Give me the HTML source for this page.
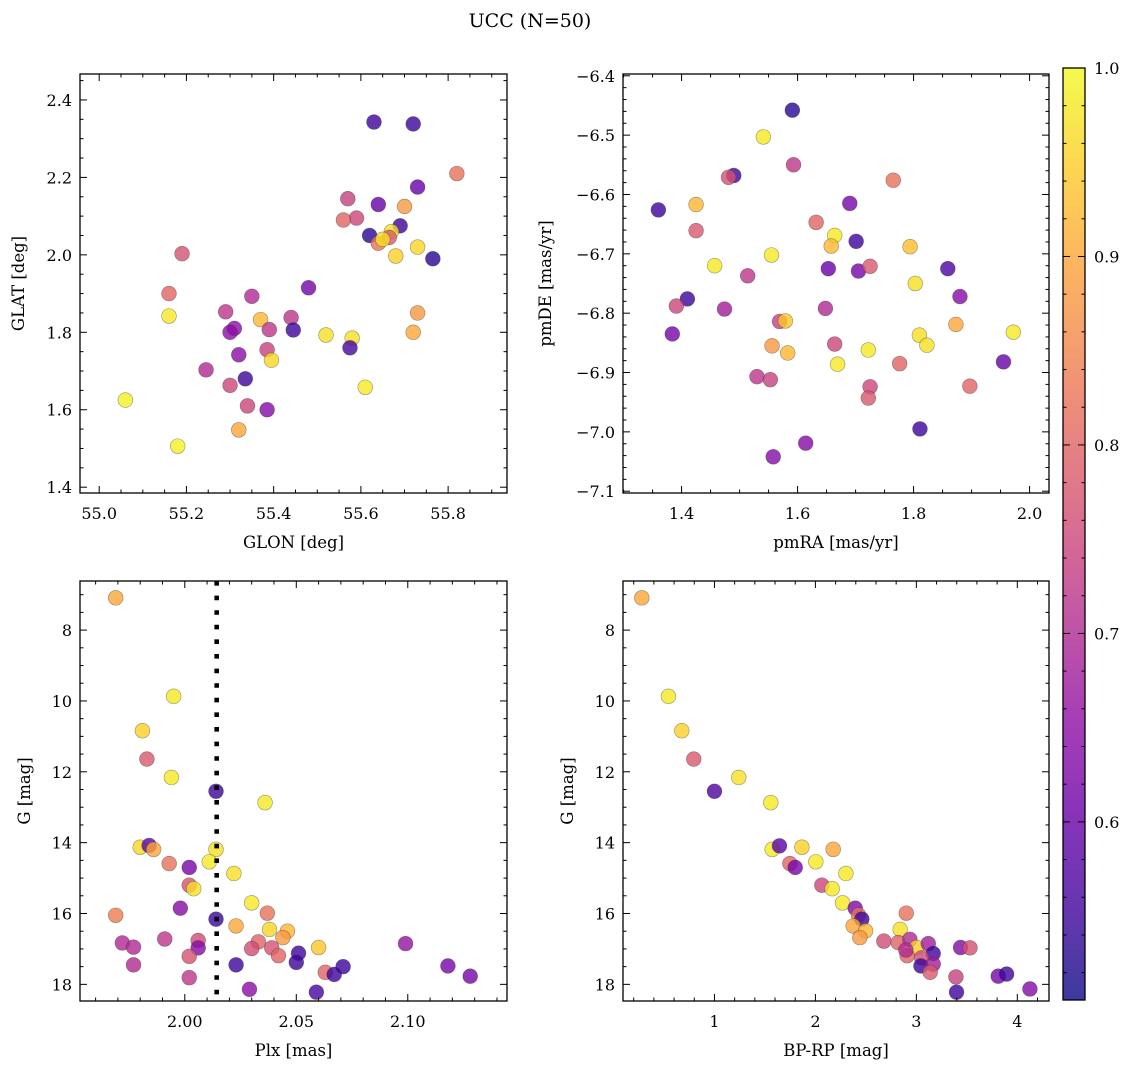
<!DOCTYPE html>
<html><head><meta charset="utf-8"><style>
html,body{margin:0;padding:0;background:#fff;}
svg{display:block;font-family:"DejaVu Serif","Liberation Serif",serif;}
</style></head><body>
<svg id="fig" width="1136" height="1068" viewBox="0 0 1136 1068" xmlns="http://www.w3.org/2000/svg">
<text x="530" y="27" font-size="19" text-anchor="middle">UCC (N=50)</text>
</svg>
<script>
// ---- data ----
const glon = [55.63,55.72,55.82,55.73,55.57,55.64,55.70,55.59,55.56,55.69,55.62,55.67,55.665,55.64,55.65,55.73,55.68,55.765,55.19,55.16,55.48,55.35,55.16,55.29,55.37,55.44,55.73,55.31,55.30,55.39,55.445,55.52,55.58,55.72,55.575,55.385,55.32,55.395,55.245,55.335,55.30,55.61,55.06,55.34,55.385,55.32,55.18];
const glat = [2.343,2.338,2.21,2.175,2.145,2.13,2.125,2.095,2.09,2.075,2.05,2.06,2.045,2.03,2.04,2.02,1.997,1.99,2.003,1.9,1.915,1.893,1.842,1.853,1.833,1.838,1.85,1.81,1.8,1.807,1.806,1.793,1.785,1.8,1.76,1.755,1.742,1.728,1.703,1.68,1.663,1.658,1.625,1.61,1.6,1.548,1.506];
const probA = [0.55,0.55,0.82,0.6,0.74,0.6,0.88,0.75,0.8,0.55,0.53,0.97,0.78,0.82,0.97,0.96,0.95,0.53,0.77,0.8,0.62,0.7,0.98,0.72,0.92,0.72,0.88,0.65,0.65,0.72,0.55,0.97,0.97,0.9,0.56,0.74,0.65,0.96,0.7,0.55,0.75,0.98,0.99,0.75,0.64,0.9,0.99];

const pmra = [1.591,1.541,1.593,1.490,1.481,1.765,1.360,1.425,1.690,1.632,1.425,1.664,1.658,1.701,1.794,1.555,1.457,1.514,1.653,1.705,1.725,1.859,1.803,1.880,1.410,1.391,1.474,1.648,1.569,1.579,1.873,1.384,1.810,1.972,1.823,1.556,1.664,1.583,1.722,1.669,1.776,1.955,1.530,1.553,1.725,1.897,1.722,1.811,1.614,1.558];
const pmde = [-6.458,-6.503,-6.550,-6.568,-6.571,-6.576,-6.626,-6.617,-6.615,-6.647,-6.661,-6.669,-6.687,-6.679,-6.688,-6.702,-6.720,-6.737,-6.725,-6.729,-6.721,-6.725,-6.750,-6.772,-6.776,-6.788,-6.793,-6.792,-6.814,-6.813,-6.819,-6.835,-6.837,-6.832,-6.854,-6.855,-6.852,-6.867,-6.862,-6.886,-6.885,-6.882,-6.907,-6.912,-6.924,-6.923,-6.943,-6.995,-7.019,-7.042];
const probB = [0.53,0.98,0.72,0.55,0.77,0.82,0.55,0.92,0.62,0.8,0.78,0.98,0.92,0.55,0.93,0.98,0.98,0.72,0.6,0.62,0.78,0.57,0.97,0.64,0.55,0.75,0.68,0.7,0.74,0.94,0.9,0.62,0.97,0.98,0.97,0.88,0.75,0.92,0.98,0.98,0.8,0.6,0.72,0.74,0.75,0.8,0.78,0.55,0.64,0.64];

const plx = [1.969,1.995,1.981,1.983,1.994,2.014,2.036,1.980,1.984,1.986,2.014,1.993,2.011,2.002,2.022,2.002,2.004,2.030,1.998,2.037,1.969,2.014,2.023,2.038,2.046,2.044,1.972,1.977,1.991,2.006,2.006,2.099,2.033,2.030,2.039,2.042,2.051,2.060,2.002,2.050,2.023,1.977,2.071,2.063,2.067,2.118,2.002,2.128,2.029,2.059];
const gmagC = [7.09,9.87,10.84,11.64,12.16,12.55,12.87,14.13,14.08,14.19,14.19,14.59,14.54,14.70,14.87,15.20,15.30,15.70,15.85,15.99,16.05,16.16,16.35,16.45,16.50,16.68,16.83,16.95,16.72,16.76,16.97,16.85,16.80,16.99,16.97,17.19,17.12,16.96,17.21,17.38,17.45,17.45,17.50,17.66,17.72,17.48,17.81,17.77,18.14,18.22];
const probC = [0.9,0.98,0.95,0.78,0.98,0.55,0.98,0.96,0.58,0.9,0.97,0.82,0.98,0.62,0.97,0.77,0.97,0.98,0.64,0.82,0.84,0.55,0.9,0.96,0.92,0.88,0.7,0.7,0.72,0.76,0.64,0.66,0.8,0.76,0.77,0.8,0.55,0.94,0.77,0.55,0.55,0.7,0.55,0.8,0.55,0.62,0.72,0.62,0.65,0.56];
const plxLine = 2.0143;

const bprp = [0.280,0.544,0.676,0.795,1.0,1.241,1.558,1.572,1.644,1.866,2.176,1.747,1.800,2.004,2.302,2.064,2.166,2.269,2.394,2.427,2.460,2.374,2.497,2.440,2.900,2.840,2.678,2.820,2.936,3.002,3.118,3.167,2.909,3.052,3.045,3.167,3.137,3.438,3.531,3.392,3.811,3.894,3.398,4.125,2.896];
const gmagD = [7.09,9.87,10.84,11.64,12.55,12.16,12.87,14.19,14.09,14.13,14.19,14.59,14.70,14.54,14.87,15.20,15.30,15.70,15.85,16.04,16.16,16.35,16.49,16.68,15.99,16.45,16.78,16.82,16.73,16.96,16.85,17.13,17.19,17.25,17.48,17.43,17.66,16.96,16.97,17.79,17.77,17.71,18.22,18.13,17.03];
const probD = [0.9,0.98,0.95,0.78,0.57,0.97,0.98,0.98,0.58,0.95,0.9,0.8,0.62,0.98,0.98,0.75,0.98,0.98,0.63,0.82,0.55,0.9,0.92,0.88,0.82,0.97,0.76,0.8,0.7,0.95,0.68,0.55,0.8,0.76,0.55,0.68,0.78,0.64,0.77,0.74,0.62,0.55,0.55,0.64,0.7];

const cbTicks = [0.6,0.7,0.8,0.9,1.0];
const cMin = 0.5055, cMax = 1.0;

// ---- helpers ----
const NS = "http://www.w3.org/2000/svg";
const svg = document.getElementById('fig');
function mk(tag, attrs, parent){const e=document.createElementNS(NS,tag);for(const k in attrs)e.setAttribute(k,attrs[k]);(parent||svg).appendChild(e);return e;}
const stops=[[13,8,135],[65,4,157],[106,0,168],[143,13,164],[177,42,144],[204,71,120],[225,100,98],[242,132,75],[252,166,54],[252,206,37],[240,249,33]];
function plasma(t){t=Math.max(0,Math.min(1,t));const f=t*10,i=Math.min(9,Math.floor(f)),u=f-i;const a=stops[i],b=stops[i+1];return 'rgb('+[0,1,2].map(k=>Math.round(a[k]+(b[k]-a[k])*u)).join(',')+')';}
function cnorm(v){return (v-cMin)/(cMax-cMin);}
function fmt(v,d){return (v<0?'\u2212':'')+Math.abs(v).toFixed(d);}

function panel(p){
  const {x0,x1,y0,y1,xmin,xmax,ymin,ymax,invY}=p;
  const sx=v=>x0+(v-xmin)/(xmax-xmin)*(x1-x0);
  const sy=invY? v=>y0+(v-ymin)/(ymax-ymin)*(y1-y0) : v=>y1-(v-ymin)/(ymax-ymin)*(y1-y0);
  const g=mk('g',{});
  
  
  // points
  const pg=mk('g',{},g);
  
  
  for(let i=0;i<p.xs.length;i++){
    const c=mk('circle',{cx:sx(p.xs[i]),cy:sy(p.ys[i]),r:7.4,fill:plasma(cnorm(p.cs[i])),'fill-opacity':0.8,stroke:'#333','stroke-opacity':0.5,'stroke-width':0.6},pg);
    
    
  }
  if(p.extra) p.extra(g,sx,sy);
  // frame
  const fr=mk('rect',{x:x0,y:y0,width:x1-x0,height:y1-y0,fill:'none',stroke:'#000','stroke-width':1.3},g);
  
  
  // ticks
  const eps=1e-9;
  for(let v=Math.ceil(xmin/p.xminor-eps)*p.xminor; v<=xmax+eps; v+=p.xminor){
    const X=sx(v); const isMaj=Math.abs(v/p.xmajor-Math.round(v/p.xmajor))<1e-6; const L=isMaj?7:3.5;
    mk('line',{x1:X,x2:X,y1:y1,y2:y1-L,stroke:'#000','stroke-width':1},g);
    mk('line',{x1:X,x2:X,y1:y0,y2:y0+L,stroke:'#000','stroke-width':1},g);
    if(isMaj){const t=mk('text',{x:X,y:y1+26,'font-size':16,'text-anchor':'middle'},g);t.textContent=fmt(v,p.xdec);
      
      }
  }
  for(let v=Math.ceil(ymin/p.yminor-eps)*p.yminor; v<=ymax+eps; v+=p.yminor){
    const Y=sy(v); const isMaj=Math.abs(v/p.ymajor-Math.round(v/p.ymajor))<1e-6; const L=isMaj?7:3.5;
    mk('line',{x1:x0,x2:x0+L,y1:Y,y2:Y,stroke:'#000','stroke-width':1},g);
    mk('line',{x1:x1,x2:x1-L,y1:Y,y2:Y,stroke:'#000','stroke-width':1},g);
    if(isMaj){const t=mk('text',{x:x0-8,y:Y+6,'font-size':16,'text-anchor':'end'},g);t.textContent=fmt(v,p.ydec);
      
      }
  }
  const xl=mk('text',{x:(x0+x1)/2,y:y1+55,'font-size':16.5,'text-anchor':'middle'},g);xl.textContent=p.xlabel;
  
  
  const yx=p.ylabelX, yc=(y0+y1)/2;
  const yl=mk('text',{x:yx,y:yc,'font-size':16.5,'text-anchor':'middle',transform:'rotate(-90 '+yx+' '+yc+')'},g);yl.textContent=p.ylabel;
  
  
}

panel({name:'glon-glat-panel',x0:80,x1:507,y0:74,y1:493,xmin:54.956,xmax:55.935,ymin:1.385,ymax:2.467,xmajor:0.2,xminor:0.05,ymajor:0.2,yminor:0.05,xdec:1,ydec:1,xs:glon,ys:glat,cs:probA,xlabel:'GLON [deg]',ylabel:'GLAT [deg]',ylabelX:24});
panel({name:'pm-panel',x0:623,x1:1049,y0:74,y1:493,xmin:1.299,xmax:2.0335,ymin:-7.103,ymax:-6.397,xmajor:0.2,xminor:0.05,ymajor:0.1,yminor:0.02,xdec:1,ydec:1,xs:pmra,ys:pmde,cs:probB,xlabel:'pmRA [mas/yr]',ylabel:'pmDE [mas/yr]',ylabelX:551});
panel({name:'plx-g-panel',x0:80,x1:507,y0:581,y1:1001,xmin:1.953,xmax:2.1445,ymin:6.614,ymax:18.47,invY:true,xmajor:0.05,xminor:0.01,ymajor:2,yminor:0.5,xdec:2,ydec:0,xs:plx,ys:gmagC,cs:probC,xlabel:'Plx [mas]',ylabel:'G [mag]',ylabelX:30,
  extra:(g,sx,sy)=>{const l=mk('line',{x1:sx(plxLine),x2:sx(plxLine),y1:581,y2:1001,stroke:'#000','stroke-width':4.6,'stroke-dasharray':'4.6 10'},g);
    
    }});
panel({name:'cmd-panel',x0:623,x1:1049,y0:581,y1:1001,xmin:0.094,xmax:4.314,ymin:6.614,ymax:18.47,invY:true,xmajor:1,xminor:0.2,ymajor:2,yminor:0.5,xdec:0,ydec:0,xs:bprp,ys:gmagD,cs:probD,xlabel:'BP-RP [mag]',ylabel:'G [mag]',ylabelX:573});

// colorbar
(function(){
  const cx0=1063,cx1=1085,cy0=68,cy1=1000;
  const g=mk('g',{});
  
  
  const defs=mk('defs',{},g);
  const lg=mk('linearGradient',{id:'cbg',x1:0,y1:1,x2:0,y2:0},defs);
  for(let i=0;i<=20;i++){const t=i/20;mk('stop',{offset:t,'stop-color':plasma(t)},lg);}
  mk('rect',{x:cx0,y:cy0,width:cx1-cx0,height:cy1-cy0,fill:'url(#cbg)','fill-opacity':0.8},g);
  mk('rect',{x:cx0,y:cy0,width:cx1-cx0,height:cy1-cy0,fill:'none',stroke:'#000','stroke-width':1.3},g);
  const sy=v=>cy1-(v-cMin)/(cMax-cMin)*(cy1-cy0);
  for(let k=26;k<=50;k++){const v=k/50;if(v<cMin)continue;const Y=sy(v);const maj=k%5===0;
    mk('line',{x1:cx1,x2:cx1-(maj?7:3.5),y1:Y,y2:Y,stroke:'#000','stroke-width':1},g);
    mk('line',{x1:cx0,x2:cx0+(maj?7:3.5),y1:Y,y2:Y,stroke:'#000','stroke-width':1},g);}
  cbTicks.forEach(v=>{const t=mk('text',{x:cx1+9,y:sy(v)+6,'font-size':16},g);t.textContent=v.toFixed(1);
    
    });
})();
</script>
</body></html>
